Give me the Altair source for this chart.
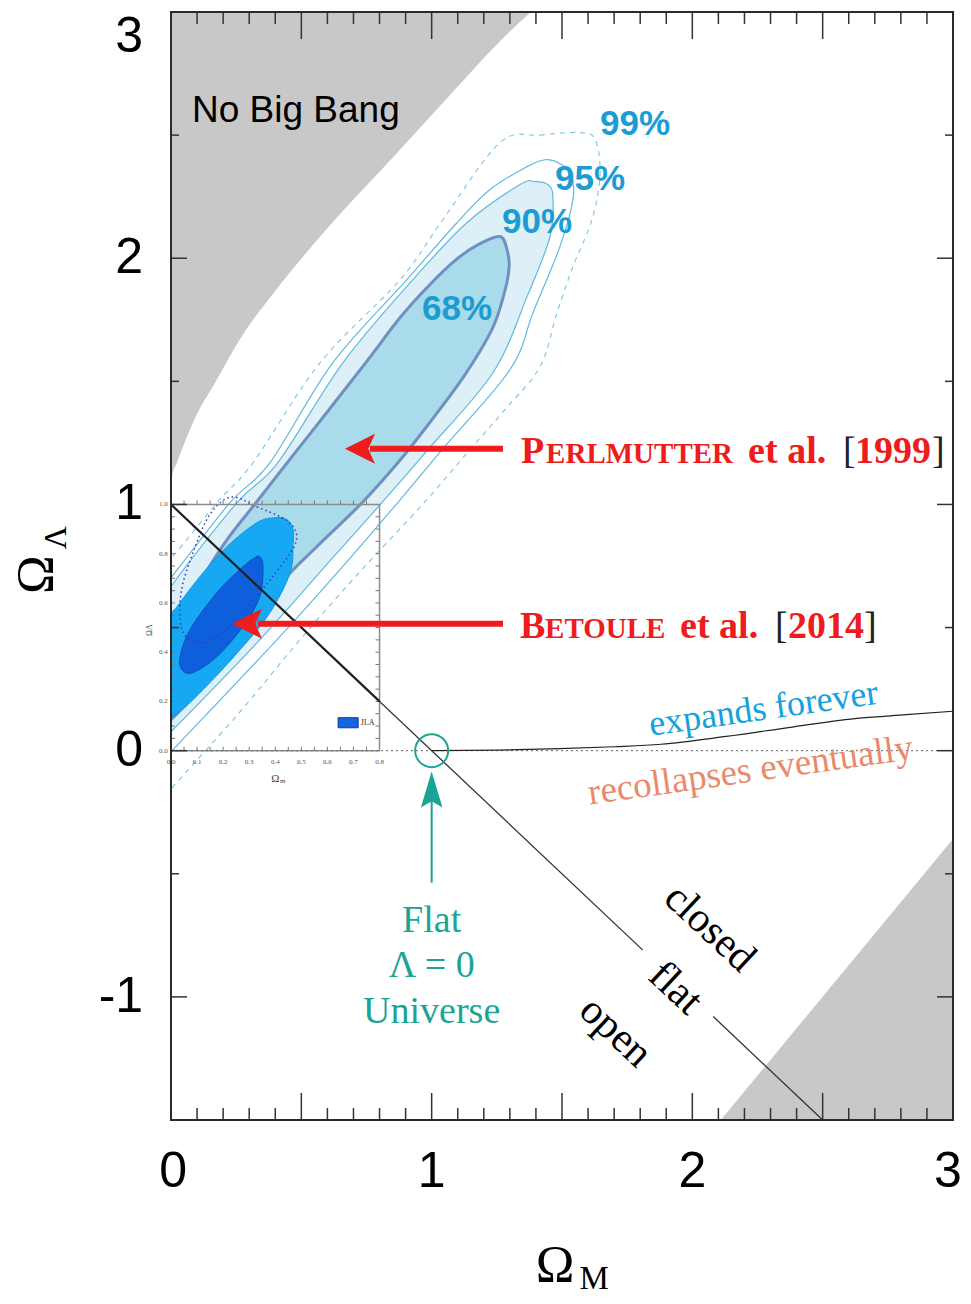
import altair as alt
import pandas as pd

# ---------------- values ----------------
# axis tick labels (anchor positions along each axis)
x_label_pos = [0.008, 1.0, 2.0, 2.98]
x_label_text = ["0", "1", "2", "3"]
y_label_values = [-1, 0, 1, 2]
y_label_text = ["-1", "0", "1", "2"]
y_top_label_value = [3]
y_top_label_text = ["3"]
x_major_ticks = [0.5, 1.0, 1.5, 2.0, 2.5]
x_minor_ticks = [0.1, 0.2, 0.3, 0.4, 0.6, 0.7, 0.8, 0.9, 1.1, 1.2, 1.3, 1.4, 1.6, 1.7, 1.8, 1.9,
                 2.1, 2.2, 2.3, 2.4, 2.6, 2.7, 2.8, 2.9]
y_major_ticks = [-1, 0, 1, 2]
y_minor_ticks = [-0.5, 0.5, 1.5, 2.5]

# "No Big Bang" region boundary (Omega_M, Omega_Lambda); region lies above it
nobang_om = [0.0, 0.004, 0.023, 0.084, 0.176, 0.276, 0.391, 0.598, 0.852, 1.059, 1.289, 1.38]
nobang_ol = [1.02, 1.113, 1.170, 1.332, 1.507, 1.690, 1.855, 2.120, 2.410, 2.650, 2.910, 3.0]
# lower-right grey region
corner_om = [2.11, 3.0, 3.0]
corner_ol = [-1.5, -0.36, -1.5]

# Perlmutter et al. (1999) confidence contours
p68_om = [1.262, 1.289, 1.297, 1.277, 1.231, 1.128, 1.001, 0.871, 0.733, 0.560, 0.445, 0.353, 0.246,
          0.130, 0.000, -0.08, -0.14, -0.12, -0.06, 0.000, 0.023, 0.100, 0.215, 0.326, 0.464, 0.621,
          0.756, 0.879, 0.986, 1.089, 1.178]
p68_ol = [2.088, 2.035, 1.962, 1.852, 1.710, 1.527, 1.344, 1.170, 1.007, 0.829, 0.707, 0.573, 0.418,
          0.268, 0.126, 0.05, 0.10, 0.25, 0.36, 0.451, 0.520, 0.666, 0.857, 1.007, 1.194, 1.405,
          1.588, 1.759, 1.885, 1.990, 2.055]
p90_om = [1.396, 1.446, 1.465, 1.454, 1.366, 1.235, 0.986, 0.809, 0.614, 0.341, 0.008, -0.10, -0.17,
          -0.12, 0.000, 0.253, 0.410, 0.660, 0.928, 1.136, 1.339]
p90_ol = [2.311, 2.299, 2.250, 2.088, 1.844, 1.535, 1.223, 1.007, 0.776, 0.451, 0.085, -0.03, 0.15,
          0.45, 0.666, 1.007, 1.170, 1.576, 1.913, 2.145, 2.299]
p95_om = [1.435, 1.492, 1.535, 1.542, 1.492, 1.389, 1.301, 1.040, 0.879, 0.648, 0.407, 0.008, -0.10,
          -0.19, -0.13, 0.000, 0.226, 0.380, 0.621, 0.905, 1.090, 1.224, 1.366]
p95_ol = [2.400, 2.384, 2.340, 2.238, 2.047, 1.779, 1.548, 1.223, 1.019, 0.735, 0.451, 0.004, -0.12,
          0.15, 0.55, 0.703, 1.007, 1.170, 1.576, 1.913, 2.136, 2.279, 2.372]
p99_om = [1.262, 1.416, 1.569, 1.627, 1.646, 1.615, 1.542, 1.481, 1.416, 1.281, 1.147, 0.971, 0.725,
          0.495, 0.265, 0.008, -0.10, -0.22, -0.14, 0.000, 0.176, 0.315, 0.572, 0.879, 1.043]
p99_ol = [2.470, 2.500, 2.510, 2.482, 2.340, 2.157, 1.966, 1.779, 1.560, 1.385, 1.223, 1.007, 0.727,
          0.451, 0.158, -0.146, -0.28, 0.10, 0.62, 0.780, 1.007, 1.170, 1.576, 1.913, 2.157]

# Betoule et al. (2014) JLA contours (inset)
b95_om = [0.445, 0.468, 0.468, 0.457, 0.380, 0.265, 0.123, 0.008, -0.08, -0.10, 0.000, 0.023, 0.111,
          0.215, 0.330, 0.399]
b95_ol = [0.938, 0.898, 0.837, 0.723, 0.561, 0.410, 0.248, 0.138, 0.10, 0.35, 0.552, 0.585, 0.707,
          0.829, 0.926, 0.946]
b68_om = [0.341, 0.353, 0.341, 0.276, 0.176, 0.084, 0.042, 0.035, 0.073, 0.176, 0.276, 0.322]
b68_ol = [0.788, 0.747, 0.626, 0.504, 0.382, 0.317, 0.329, 0.382, 0.491, 0.642, 0.747, 0.784]
bdot_om = [0.23, 0.33, 0.45, 0.48, 0.40, 0.28, 0.17, 0.09, 0.04, 0.04, 0.09, 0.15]
bdot_ol = [1.03, 0.99, 0.93, 0.85, 0.72, 0.57, 0.46, 0.44, 0.50, 0.65, 0.82, 0.96]

# expands forever / recollapses boundary
exp_om = [1.0, 1.25, 1.49, 1.70, 1.88, 2.13, 2.39, 2.64, 2.82, 3.0]
exp_ol = [0.0, 0.002, 0.008, 0.016, 0.026, 0.058, 0.097, 0.132, 0.146, 0.160]

# flat-universe line Omega_M + Omega_Lambda = 1 (with a gap for the "flat" label)
flat_x = [0.0, 2.08]
flat_y = [1.0, -1.08]
flat_x2 = [1.81, 2.5]
flat_y2 = [-0.81, -1.5]

# inset axes
inset_x_labels = ["0.0", "0.1", "0.2", "0.3", "0.4", "0.5", "0.6", "0.7", "0.8"]
inset_x_vals = [0.0, 0.1, 0.2, 0.3, 0.4, 0.5, 0.6, 0.7, 0.8]
inset_y_labels = ["0.0", "0.2", "0.4", "0.6", "0.8", "1.0"]
inset_y_vals = [0.0, 0.2, 0.4, 0.6, 0.8, 1.0]
inset_x_ticks = [0.05, 0.1, 0.15, 0.2, 0.25, 0.3, 0.35, 0.4, 0.45, 0.5, 0.55, 0.6, 0.65, 0.7, 0.75]
inset_y_ticks = [0.05, 0.1, 0.15, 0.2, 0.25, 0.3, 0.35, 0.4, 0.45, 0.5, 0.55, 0.6, 0.65, 0.7, 0.75,
                 0.8, 0.85, 0.9, 0.95]

# ---------------- scales & helpers ----------------
XS = alt.Scale(domain=[0, 3], nice=False, zero=False)
YS = alt.Scale(domain=[-1.5, 3], nice=False, zero=False)


def xy(xf="x", yf="y"):
    return dict(x=alt.X(f"{xf}:Q", scale=XS, axis=None), y=alt.Y(f"{yf}:Q", scale=YS, axis=None))


def shape(om, ol, interp, **props):
    df = pd.DataFrame({"x": om, "y": ol, "i": list(range(len(om)))})
    return alt.Chart(df).mark_line(interpolate=interp, clip=True, **props).encode(
        order="i:Q", **xy())


def texts(xv, yv, tv, **props):
    df = pd.DataFrame({"x": xv, "y": yv, "t": tv})
    return alt.Chart(df).mark_text(**props).encode(text="t:N", **xy())


def segs(x, y, x2, y2, **props):
    df = pd.DataFrame({"x": x, "y": y, "x2": x2, "y2": y2})
    return alt.Chart(df).mark_rule(**props).encode(x2="x2:Q", y2="y2:Q", **xy())


def ticks(vals, fixed, side, length, color="#333333", thick=1.5):
    if side in ("bottom", "top"):
        df = pd.DataFrame({"x": vals, "y": [fixed] * len(vals)})
        off = -length / 2 if side == "bottom" else length / 2
        return alt.Chart(df).mark_tick(orient="vertical", size=length, thickness=thick, color=color,
                                       yOffset=off, opacity=1).encode(**xy())
    df = pd.DataFrame({"x": [fixed] * len(vals), "y": vals})
    off = length / 2 if side == "left" else -length / 2
    return alt.Chart(df).mark_tick(orient="horizontal", size=length, thickness=thick, color=color,
                                   xOffset=off, opacity=1).encode(**xy())


def points(xv, yv, **props):
    df = pd.DataFrame({"x": xv, "y": yv})
    return alt.Chart(df).mark_point(**props).encode(**xy())


GREY = "#c8c8c8"
layers = []

# grey excluded regions
nobang_df = pd.DataFrame({"x": nobang_om, "y": nobang_ol, "top": [3.0] * len(nobang_om)})
layers.append(alt.Chart(nobang_df).mark_area(interpolate="monotone", color=GREY, opacity=1,
                                             clip=True).encode(y2="top:Q", **xy()))
layers.append(shape(corner_om, corner_ol, "linear-closed", fill=GREY, stroke=GREY, strokeWidth=0.5))

# Perlmutter contours
layers.append(shape(p90_om, p90_ol, "cardinal-closed", fill="#ddf0f8", stroke="#5fb9e0", strokeWidth=1.2))
layers.append(shape(p68_om, p68_ol, "cardinal-closed", fill="#a9dbea", stroke="#6f90c0", strokeWidth=3))
layers.append(shape(p95_om, p95_ol, "cardinal-closed", stroke="#5fb9e0", strokeWidth=1.2))
layers.append(shape(p99_om, p99_ol, "cardinal-closed", stroke="#82c8ea", strokeWidth=1.2,
                    strokeDash=[5, 5]))

# Betoule contours
layers.append(shape(b95_om, b95_ol, "cardinal-closed", fill="#16a8f2", stroke="#1096e0", strokeWidth=1))
layers.append(shape(b68_om, b68_ol, "cardinal-closed", fill="#0d5fdc", stroke="#0b4fc0", strokeWidth=1))
layers.append(shape(bdot_om, bdot_ol, "cardinal-closed", stroke="#2a3fc8", strokeWidth=1.5,
                    strokeDash=[1.5, 3]))

# inset frame, ticks and labels
inset_df = pd.DataFrame({"x": [0.0], "x2": [0.8], "y": [0.0], "y2": [1.0]})
layers.append(alt.Chart(inset_df).mark_rect(fillOpacity=0, stroke="#8c8c8c", strokeWidth=1.5).encode(
    x2="x2:Q", y2="y2:Q", **xy()))
layers.append(ticks(inset_x_ticks, 0.0, "bottom", 4, color="#777777", thick=1))
layers.append(ticks(inset_x_ticks, 1.0, "bottom", 4, color="#777777", thick=1))
layers.append(ticks(inset_y_ticks, 0.8, "right", 4, color="#777777", thick=1))
layers.append(ticks(inset_y_ticks, 0.0, "left", 4, color="#777777", thick=1))
layers.append(texts(inset_x_vals, [-0.03] * len(inset_x_vals), inset_x_labels, font="Liberation Serif",
                    fontSize=7, color="#555555", align="center", baseline="top"))
layers.append(texts([-0.012] * len(inset_y_vals), inset_y_vals, inset_y_labels, font="Liberation Serif",
                    fontSize=7, color="#555555", align="right", baseline="middle"))
layers.append(texts([0.40], [-0.115], ["Ω"], font="Liberation Serif", fontSize=11, color="#444444",
                    align="center", baseline="middle"))
layers.append(texts([0.418], [-0.125], ["m"], font="Liberation Serif", fontSize=7, color="#444444",
                    align="left", baseline="middle"))
layers.append(texts([-0.08], [0.49], ["ΩΛ"], font="Liberation Serif", fontSize=8, color="#444444",
                    align="center", baseline="middle", angle=270))
legend_df = pd.DataFrame({"x": [0.641], "x2": [0.718], "y": [0.093], "y2": [0.134]})
layers.append(alt.Chart(legend_df).mark_rect(fill="#1565e0", stroke="#1a3a8a", strokeWidth=1).encode(
    x2="x2:Q", y2="y2:Q", **xy()))
layers.append(texts([0.728], [0.113], ["JLA"], font="Liberation Serif", fontSize=8, color="#333333",
                    align="left", baseline="middle"))

# reference lines
layers.append(segs([0.0], [0.0], [3.0], [0.0], color="#666666", strokeWidth=1, strokeDash=[2, 3]))
layers.append(alt.Chart(pd.DataFrame({"x": exp_om, "y": exp_ol})).mark_line(
    color="#222222", strokeWidth=1.2, interpolate="monotone", clip=True).encode(**xy()))
layers.append(segs(flat_x, flat_y, flat_x2, flat_y2, color="#333333", strokeWidth=1.3))
layers.append(segs([0.0], [1.0], [0.8], [0.2], color="#222222", strokeWidth=2.2))

# main frame ticks (inward)
layers.append(ticks(x_major_ticks, -1.5, "bottom", 27))
layers.append(ticks(x_minor_ticks, -1.5, "bottom", 12))
layers.append(ticks(x_major_ticks, 3.0, "top", 27))
layers.append(ticks(x_minor_ticks, 3.0, "top", 12))
layers.append(ticks(y_major_ticks, 0.0, "left", 16))
layers.append(ticks(y_minor_ticks, 0.0, "left", 8))
layers.append(ticks(y_major_ticks, 3.0, "right", 16))
layers.append(ticks(y_minor_ticks, 3.0, "right", 8))

# frame
frame_df = pd.DataFrame({"x": [0.0], "x2": [3.0], "y": [-1.5], "y2": [3.0]})
layers.append(alt.Chart(frame_df).mark_rect(fillOpacity=0, stroke="#2a2a2a", strokeWidth=2).encode(
    x2="x2:Q", y2="y2:Q", **xy()))

# tick labels (drawn as text through the shared scales)
LABEL = dict(font="Liberation Sans", fontSize=50, color="black")
layers.append(texts(x_label_pos, [-1.71] * len(x_label_pos), x_label_text,
                    align="center", baseline="middle", **LABEL))
layers.append(texts([-0.107] * len(y_label_values), y_label_values, y_label_text,
                    align="right", baseline="middle", **LABEL))
layers.append(texts([-0.107], y_top_label_value, y_top_label_text,
                    align="right", baseline="top", **LABEL))

# axis titles
layers.append(texts([1.473], [-2.092], ["Ω"], font="Liberation Serif", fontSize=52, color="black",
                    align="center", baseline="middle"))
layers.append(texts([1.623], [-2.145], ["M"], font="Liberation Serif", fontSize=33, color="black",
                    align="center", baseline="middle"))
layers.append(texts([-0.515], [0.715], ["Ω"], font="Liberation Serif", fontSize=52, color="black",
                    align="center", baseline="middle", angle=270))
layers.append(texts([-0.44], [0.865], ["Λ"], font="Liberation Serif", fontSize=32, color="black",
                    align="center", baseline="middle", angle=270))

# region labels
layers.append(texts([0.0806], [2.555], ["No Big Bang"], font="Liberation Sans", fontSize=37,
                    color="black", align="left", baseline="alphabetic"))
layers.append(texts([1.646, 1.473, 1.270, 0.963], [2.502, 2.279, 2.104, 1.751],
                    ["99%", "95%", "90%", "68%"], font="Liberation Sans", fontSize=35,
                    fontWeight="bold", color="#1b9dd3", align="left", baseline="alphabetic"))
layers.append(texts([2.279], [0.126], ["expands forever"], font="Liberation Serif", fontSize=36,
                    color="#16a1da", align="center", baseline="alphabetic", angle=352))
layers.append(texts([2.229], [-0.126], ["recollapses eventually"], font="Liberation Serif", fontSize=37,
                    color="#ea8a6c", align="center", baseline="alphabetic", angle=352))
layers.append(texts([2.068, 1.937, 1.707], [-0.719, -0.963, -1.141], ["closed", "flat", "open"],
                    font="Liberation Serif", fontSize=42, color="black", align="center",
                    baseline="middle", angle=43))
layers.append(texts([1.0, 1.0, 1.0], [-0.735, -0.918, -1.105], ["Flat", "Λ = 0", "Universe"],
                    font="Liberation Serif", fontSize=38, color="#1aa494", align="center",
                    baseline="alphabetic"))

# reference labels (small caps imitation)
RED = "#ee1c1c"
layers.append(texts([1.343, 2.214, 2.624, 1.339, 1.953, 2.367], [1.170, 1.170, 1.170, 0.459, 0.459, 0.459],
                    ["P", "et al.", "1999", "B", "et al.", "2014"], font="Liberation Serif", fontSize=38,
                    fontWeight="bold", color=RED, align="left", baseline="alphabetic"))
layers.append(texts([1.439, 1.435], [1.170, 0.459], ["ERLMUTTER", "ETOULE"], font="Liberation Serif",
                    fontSize=29, fontWeight="bold", color=RED, align="left", baseline="alphabetic"))
layers.append(texts([2.578, 2.919, 2.317, 2.659], [1.170, 1.170, 0.459, 0.459], ["[", "]", "[", "]"],
                    font="Liberation Serif", fontSize=38, color="#222222", align="left",
                    baseline="alphabetic"))

# arrows
layers.append(segs([0.763, 0.334], [1.2267, 0.515], [1.2737, 1.2737], [1.2267, 0.515],
                   color=RED, strokeWidth=6))
layers.append(points([0.6675, 0.234], [1.2267, 0.515], shape="M0,0L2,-1L1.55,0L2,1Z", size=900,
                     filled=True, color=RED, opacity=1, strokeWidth=0))
layers.append(segs([1.0], [-0.536], [1.0], [-0.199], color="#1aa494", strokeWidth=2))
layers.append(points([1.0], [-0.085], shape="M0,0L-0.6,2L0,1.65L0.6,2Z", size=1296,
                     filled=True, color="#1aa494", opacity=1, strokeWidth=0))
layers.append(points([1.0], [0.0], shape="circle", size=1089, filled=False, color="#1aa494",
                     strokeWidth=2, opacity=1))

chart = alt.layer(*layers).properties(
    width=782, height=1108,
    autosize=alt.AutoSizeParams(type="none"),
    padding={"left": 163, "top": 4, "right": 10, "bottom": 176},
).configure_view(strokeWidth=0)

chart.save("out.html", embed_options={"renderer": "svg", "actions": False})
